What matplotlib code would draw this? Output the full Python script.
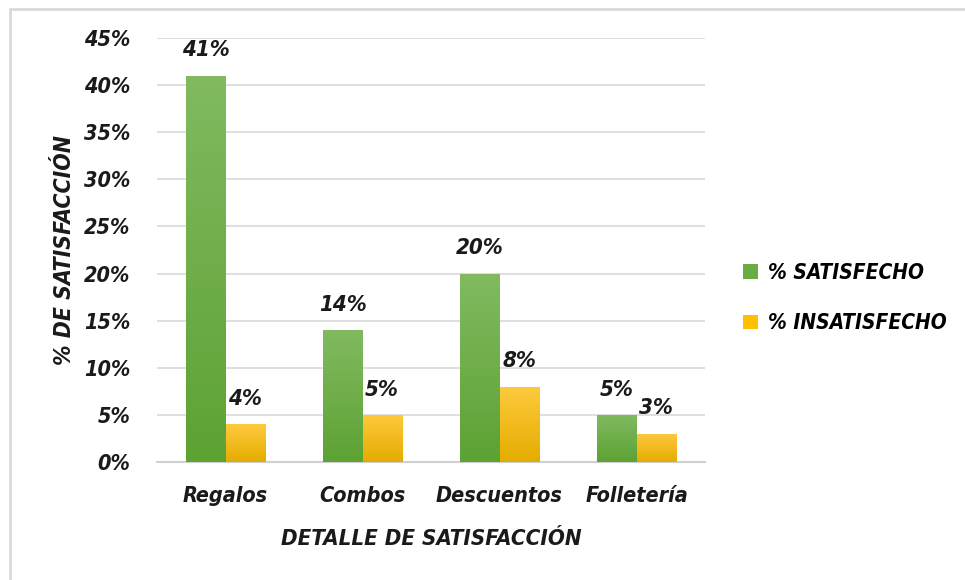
import matplotlib.pyplot as plt
import numpy as np
from matplotlib.colors import LinearSegmentedColormap
from matplotlib.patches import Rectangle

categories = ['Regalos', 'Combos', 'Descuentos', 'Folletería']
satisfecho = [0.41, 0.14, 0.20, 0.05]
insatisfecho = [0.04, 0.05, 0.08, 0.03]
series_names = ['% SATISFECHO', '% INSATISFECHO']

plt.rcParams['font.family'] = ['DejaVu Sans']
plt.rcParams['font.stretch'] = 'condensed'
plt.rcParams['font.weight'] = 'bold'
plt.rcParams['font.style'] = 'italic'
plt.rcParams['axes.labelweight'] = 'bold'

fig = plt.figure(figsize=(9.65, 5.8), dpi=100)
ax = fig.add_axes([0.1627, 0.2034, 0.5679, 0.7311])

# light frame of the chart object (only top/left visible)
fig.patches.append(Rectangle((0.0105, -0.1), 1.5, 1.085, transform=fig.transFigure,
                             fill=False, edgecolor='#d9d9d9', linewidth=2))

x = np.arange(len(categories))
w = 0.285
green_cmap = LinearSegmentedColormap.from_list('g', ['#5da233', '#81ba60'])
yellow_cmap = LinearSegmentedColormap.from_list('y', ['#e3ad00', '#ffc93e'])

b1 = ax.bar(x - w / 2, satisfecho, w, color='#6aab45', label=series_names[0], zorder=2)
b2 = ax.bar(x + w / 2, insatisfecho, w, color='#ffc000', label=series_names[1], zorder=2)

grad = np.linspace(0, 1, 100).reshape(-1, 1)
for bars, cmap in ((b1, green_cmap), (b2, yellow_cmap)):
    for bar in bars:
        bx, bw, bh = bar.get_x(), bar.get_width(), bar.get_height()
        im = ax.imshow(grad, cmap=cmap, origin='lower', aspect='auto',
                       extent=[bx, bx + bw, 0, bh], zorder=3)
        im.set_clip_path(bar)

ax.set_xlim(-0.5, len(categories) - 0.5)
ax.set_ylim(0, 0.45)

for bars, vals in ((b1, satisfecho), (b2, insatisfecho)):
    for bar, v in zip(bars, vals):
        ax.annotate(f'{v:.0%}', (bar.get_x() + bar.get_width() / 2, v),
                    xytext=(0, 11), textcoords='offset points',
                    ha='center', va='bottom', fontsize=16,
                    color='#1a1a1a')

ax.set_yticks(np.arange(0, 0.46, 0.05))
ax.set_yticklabels([f'{t}%' for t in range(0, 46, 5)])
ax.set_xticks(x)
ax.set_xticklabels(categories)
ax.tick_params(axis='both', length=0, labelsize=15.5, colors='#1a1a1a')
ax.tick_params(axis='y', pad=19)
ax.tick_params(axis='x', pad=17)

ax.yaxis.grid(True, color='#d9d9d9', linewidth=1.2, zorder=0)
ax.set_axisbelow(True)
for s in ['top', 'right', 'left']:
    ax.spines[s].set_visible(False)
ax.spines['bottom'].set_color('#d0d0d0')
ax.spines['bottom'].set_linewidth(1.5)

ax.set_xlabel('DETALLE DE SATISFACCIÓN', fontsize=16, labelpad=17, color='#1a1a1a')
ax.set_ylabel('% DE SATISFACCIÓN', fontsize=16.5, labelpad=6, color='#1a1a1a')

ax.legend(loc='center left', bbox_to_anchor=(0.751, 0.486), bbox_transform=fig.transFigure,
          frameon=False, fontsize=15, handlelength=0.7, handleheight=0.7,
          handletextpad=0.5, labelspacing=1.45)

fig.savefig('out.png', dpi=100)
